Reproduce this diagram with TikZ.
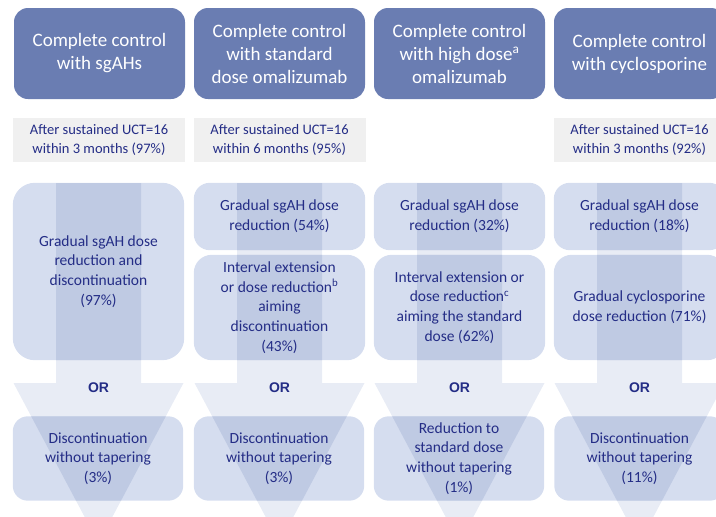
\documentclass[tikz,border=0pt]{standalone}
\usepackage{fontspec}
\setmainfont{Carlito}
\newfontfamily\orfont{Liberation Sans}
\pgfdeclarelayer{arrowlayer}
\pgfdeclarelayer{boxlayer}
\pgfdeclarelayer{overlaplayer}
\pgfsetlayers{arrowlayer,boxlayer,overlaplayer,main}

\definecolor{headfill}{HTML}{6A7DB2}
\definecolor{inktext}{HTML}{242D86}
\definecolor{condfill}{HTML}{F0F0F0}
\definecolor{arrowfill}{HTML}{E8ECF5}
\definecolor{boxfill}{HTML}{D5DDEF}
\definecolor{overlapfill}{HTML}{BFCAE3}

\tikzset{
  headbox/.style={fill=headfill, rounded corners=14pt, text=white, align=center,
    minimum width=171pt, minimum height=91pt, inner sep=0pt,
    font=\fontsize{19}{23}\selectfont},
  condbox/.style={fill=condfill, text=inktext, align=center,
    minimum width=172pt, minimum height=44pt, inner sep=0pt,
    font=\fontsize{14.5}{19.5}\selectfont},
  optbox/.style={text=inktext, align=center, inner sep=0pt,
    minimum width=171pt, font=\fontsize{15.5}{19.7}\selectfont},
  orlabel/.style={text=inktext, font=\orfont\bfseries\fontsize{14}{16}\selectfont}
}

\begin{document}
\begin{tikzpicture}[x=1pt,y=-1pt]
\useasboundingbox (0,0) rectangle (716,517);

% column headers
\node[headbox] (h1) at (99.5,53.5) {Complete control\\with sgAHs};
\node[headbox] (h2) at (279.5,53.5) {Complete control\\with standard\\dose omalizumab};
\node[headbox] (h3) at (459.5,53.5) {Complete control\\with high dose\textsuperscript{a}\\omalizumab};
\node[headbox] (h4) at (639.5,53.5) {Complete control\\with cyclosporine};

% entry conditions
\node[condbox] (c1) at (99,140) {After sustained UCT=16\\within 3 months (97\%)};
\node[condbox] (c2) at (279.5,140) {After sustained UCT=16\\within 6 months (95\%)};
\node[condbox] (c4) at (639.5,140) {After sustained UCT=16\\within 3 months (92\%)};

% tapering options
\node[optbox, minimum height=177pt] (b1) at (98.5,271.5) {Gradual sgAH dose\\reduction and\\discontinuation\\(97\%)};
\node[optbox, minimum height=67pt] (b2a) at (279.5,216.5) {Gradual sgAH dose\\reduction (54\%)};
\node[optbox, minimum height=105pt] (b2b) at (279.5,307.5) {Interval extension\\or dose reduction\textsuperscript{b}\\aiming\\discontinuation\\(43\%)};
\node[optbox, minimum height=67pt] (b3a) at (459.5,216.5) {Gradual sgAH dose\\reduction (32\%)};
\node[optbox, minimum height=105pt] (b3b) at (459.5,307.5) {Interval extension or\\dose reduction\textsuperscript{c}\\aiming the standard\\dose (62\%)};
\node[optbox, minimum height=67pt] (b4a) at (639.5,216.5) {Gradual sgAH dose\\reduction (18\%)};
\node[optbox, minimum height=105pt] (b4b) at (639.5,307.5) {Gradual cyclosporine\\dose reduction (71\%)};

% alternatives
\foreach \c [count=\i] in {98.5,279.5,459.5,639.5}
  \node[orlabel] (or\i) at (\c,388) {OR};

\node[optbox, minimum height=84pt, minimum width=170pt] (d1) at (98,458.5) {Discontinuation\\without tapering\\(3\%)};
\node[optbox, minimum height=84pt, minimum width=170pt] (d2) at (279,458.5) {Discontinuation\\without tapering\\(3\%)};
\node[optbox, minimum height=84pt, minimum width=170pt] (d3) at (459,458.5) {Reduction to\\standard dose\\without tapering\\(1\%)};
\node[optbox, minimum height=84pt, minimum width=170pt] (d4) at (639.5,458.5) {Discontinuation\\without tapering\\(11\%)};

% large background arrows, one per column
\begin{pgfonlayer}{arrowlayer}
  \foreach \c in {98.5,279.5,459.5,639.5}
    \fill[arrowfill] ({\c-42.5},183) -- ({\c+42.5},183) -- ({\c+42.5},383)
      -- ({\c+85},383) -- (\c,543) -- ({\c-85},383) -- ({\c-42.5},383) -- cycle;
\end{pgfonlayer}

% box fills
\begin{pgfonlayer}{boxlayer}
  \foreach \n/\r in {b1/22,b2a/16,b2b/18,b3a/16,b3b/18,b4a/16,b4b/18,d1/15,d2/15,d3/15,d4/15}
    \fill[boxfill, rounded corners=\r pt] (\n.south west) rectangle (\n.north east);
\end{pgfonlayer}

% arrow seen through each box
\begin{pgfonlayer}{overlaplayer}
  \foreach \n/\r/\c in {b1/22/98.5,b2a/16/279.5,b2b/18/279.5,b3a/16/459.5,b3b/18/459.5,
                        b4a/16/639.5,b4b/18/639.5,d1/15/98.5,d2/15/279.5,d3/15/459.5,d4/15/639.5}{
    \begin{scope}
      \clip[rounded corners=\r pt] (\n.south west) rectangle (\n.north east);
      \fill[overlapfill] ({\c-42.5},183) -- ({\c+42.5},183) -- ({\c+42.5},383)
        -- ({\c+85},383) -- (\c,543) -- ({\c-85},383) -- ({\c-42.5},383) -- cycle;
    \end{scope}
  }
\end{pgfonlayer}
\end{tikzpicture}
\end{document}
